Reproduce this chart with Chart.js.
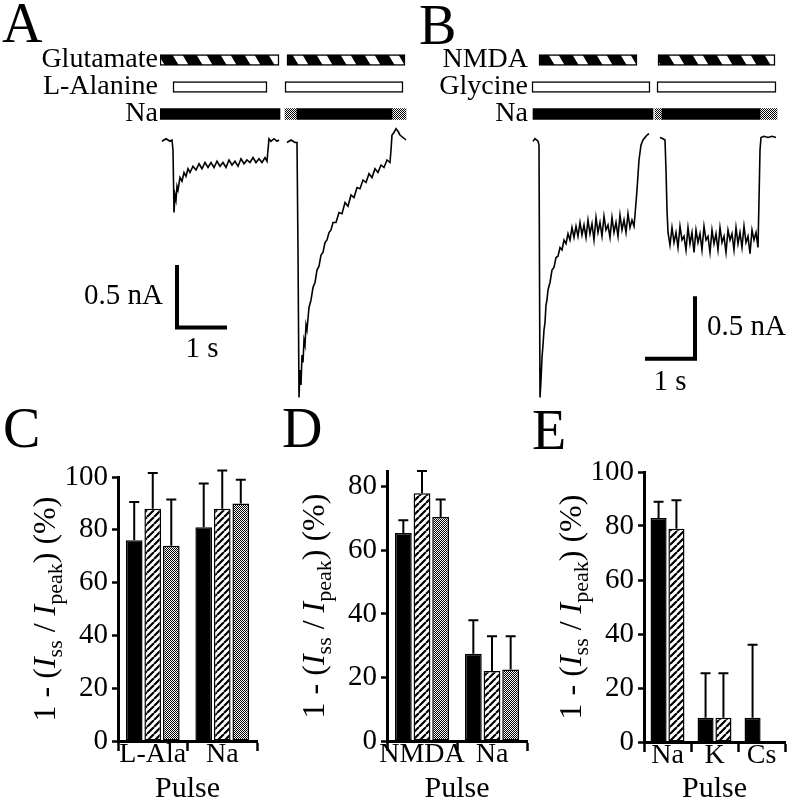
<!DOCTYPE html>
<html>
<head>
<meta charset="utf-8">
<script src="https://cdn.jsdelivr.net/npm/chart.js@4.4.1/dist/chart.umd.min.js"></script>
<style>
body { margin: 0; background: #fff; width: 794px; height: 810px; position: relative; overflow: hidden;
       font-family: "Liberation Serif", "Times New Roman", serif; }
canvas { position: absolute; }
.panel { position: absolute; font-size: 56px; line-height: 56px; color: #000; }
</style>
</head>
<body>
<div class="panel" style="left:2px;top:-5px">A</div>
<div class="panel" style="left:419px;top:-3px">B</div>
<div class="panel" style="left:3px;top:400px">C</div>
<div class="panel" style="left:282px;top:400px">D</div>
<div class="panel" style="left:532px;top:402px">E</div>

<canvas id="protA" width="420" height="134" style="left:0;top:14px"></canvas>
<canvas id="traceA" width="420" height="290" style="left:0;top:120px"></canvas>
<canvas id="protB" width="394" height="134" style="left:400px;top:14px"></canvas>
<canvas id="traceB" width="394" height="290" style="left:400px;top:120px"></canvas>
<canvas id="chartC" width="270" height="370" style="left:0;top:440px"></canvas>
<canvas id="chartD" width="275" height="370" style="left:265px;top:440px"></canvas>
<canvas id="chartE" width="264" height="370" style="left:530px;top:440px"></canvas>

<script>
// ---- A / B : application protocol, [start, end] in s
const rowsA = ['Glutamate', 'L-Alanine', 'Na'];
const pulse1A = [[0, 2.38], [0.26, 2.14], [0, 2.40]];
const pulse2A = [[2.54, 4.90], [2.50, 4.86], [2.74, 4.64]];
const naGapA = [null, null, [2.50, 2.74]];
const naEndA = [null, null, [4.64, 4.92]];

const rowsB = ['NMDA', 'Glycine', 'Na'];
const pulse1B = [[0.18, 2.14], [0.04, 2.40], [0.06, 2.46]];
const pulse2B = [[2.56, 4.90], [2.54, 4.92], [2.64, 4.60]];
const naGapB = [null, null, [2.50, 2.64]];
const naEndB = [null, null, [4.60, 4.94]];

// ---- current traces: time (s), current (nA)
const tA1 = [0.04,0.12,0.20,0.24,0.26,0.28,0.30,0.32,0.34,0.36,0.40,0.44,0.48,0.52,0.56,0.60,0.66,0.72,0.78,0.84,0.90,0.96,1.02,1.08,1.14,1.20,1.26,1.32,1.38,1.44,1.50,1.56,1.62,1.68,1.74,1.80,1.86,1.92,1.98,2.04,2.10,2.14,2.16,2.18,2.22,2.28,2.34,2.38];
const iA1 = [-0.01,0.01,-0.01,0,-0.08,-0.58,-0.44,-0.48,-0.37,-0.40,-0.30,-0.33,-0.26,-0.29,-0.23,-0.26,-0.21,-0.24,-0.19,-0.23,-0.18,-0.22,-0.18,-0.22,-0.17,-0.21,-0.18,-0.22,-0.16,-0.20,-0.17,-0.21,-0.15,-0.19,-0.16,-0.18,-0.14,-0.18,-0.15,-0.18,-0.14,-0.17,-0.08,0.01,-0.01,0.01,-0.01,0];
const tA2 = [2.54,2.62,2.70,2.74,2.76,2.78,2.80,2.82,2.84,2.86,2.88,2.90,2.92,2.94,2.98,3.02,3.06,3.10,3.14,3.18,3.22,3.26,3.30,3.34,3.38,3.42,3.46,3.52,3.58,3.64,3.70,3.76,3.82,3.88,3.94,4.00,4.06,4.12,4.18,4.24,4.30,4.36,4.42,4.48,4.54,4.60,4.62,4.64,4.68,4.72,4.76,4.80,4.86,4.92];
const iA2 = [-0.02,0,-0.02,-0.02,-0.88,-2.06,-1.84,-1.96,-1.72,-1.78,-1.60,-1.64,-1.48,-1.52,-1.34,-1.28,-1.18,-1.14,-1.04,-1.01,-0.92,-0.90,-0.82,-0.80,-0.74,-0.72,-0.66,-0.66,-0.58,-0.59,-0.50,-0.53,-0.44,-0.46,-0.38,-0.39,-0.32,-0.34,-0.27,-0.30,-0.23,-0.26,-0.20,-0.22,-0.16,-0.18,-0.08,0.04,0.06,0.09,0.07,0.04,0.02,0];
const tB1 = [0.06,0.10,0.16,0.18,0.20,0.22,0.24,0.26,0.28,0.30,0.32,0.34,0.36,0.40,0.44,0.48,0.52,0.56,0.60,0.64,0.68,0.72,0.76,0.80,0.84,0.88,0.92,0.96,1.00,1.04,1.08,1.12,1.16,1.20,1.24,1.28,1.32,1.36,1.40,1.44,1.48,1.52,1.56,1.60,1.64,1.68,1.72,1.76,1.80,1.84,1.88,1.92,1.96,2.00,2.04,2.08,2.10,2.14,2.18,2.22,2.26,2.30,2.34,2.38];
const iB1 = [-0.01,0.01,-0.01,-0.04,-2.06,-1.92,-1.74,-1.64,-1.52,-1.46,-1.32,-1.28,-1.20,-1.14,-1.04,-1.02,-0.94,-0.93,-0.86,-0.88,-0.80,-0.83,-0.75,-0.80,-0.70,-0.78,-0.69,-0.77,-0.66,-0.76,-0.68,-0.78,-0.64,-0.75,-0.67,-0.80,-0.62,-0.74,-0.66,-0.77,-0.61,-0.72,-0.68,-0.78,-0.62,-0.74,-0.66,-0.77,-0.60,-0.72,-0.64,-0.74,-0.59,-0.70,-0.64,-0.69,-0.60,-0.40,-0.16,-0.04,0,0.02,0.04,0.05];
const tB2 = [2.60,2.66,2.70,2.72,2.74,2.76,2.80,2.84,2.88,2.92,2.96,3.00,3.04,3.08,3.12,3.16,3.20,3.24,3.28,3.32,3.36,3.40,3.44,3.48,3.52,3.56,3.60,3.64,3.68,3.72,3.76,3.80,3.84,3.88,3.92,3.96,4.00,4.04,4.08,4.12,4.16,4.20,4.24,4.28,4.32,4.36,4.40,4.44,4.48,4.52,4.56,4.58,4.60,4.62,4.68,4.76,4.84,4.92];
const iB2 = [0.02,0.01,0,-0.24,-0.56,-0.74,-0.84,-0.70,-0.82,-0.74,-0.86,-0.69,-0.80,-0.77,-0.88,-0.70,-0.83,-0.74,-0.90,-0.72,-0.82,-0.75,-0.88,-0.69,-0.80,-0.77,-0.90,-0.72,-0.83,-0.75,-0.88,-0.70,-0.82,-0.77,-0.90,-0.72,-0.80,-0.75,-0.88,-0.70,-0.83,-0.74,-0.86,-0.69,-0.82,-0.77,-0.91,-0.72,-0.80,-0.74,-0.86,-0.48,-0.08,0.02,0.03,0.02,0.03,0.02];

// scale bars: corner (s, nA) and lengths
const barNA = 0.5, barSec = 1;
const cornerA = [0.34, -1.5];
const cornerB = [3.30, -1.75];

// ---- C / D / E : 1 - (Iss/Ipeak) (%), mean and upper error
const catsC = ['L-Ala', 'Na'];
const solidC = [76, 81], solidErrC = [14.5, 16.5];
const hatchC = [88, 88], hatchErrC = [13.5, 14.5];
const dotC = [74, 90], dotErrC = [17.5, 9];
const ticksC = [0, 20, 40, 60, 80, 100];

const catsD = ['NMDA', 'Na'];
const solidD = [65.5, 27.5], solidErrD = [4, 10.5];
const hatchD = [78, 22], hatchErrD = [7, 11];
const dotD = [70.5, 22.5], dotErrD = [5.5, 10.5];
const ticksD = [0, 20, 40, 60, 80];

const catsE = ['Na', 'K', 'Cs'];
const solidE = [83, 9, 9], solidErrE = [6, 16.5, 27];
const hatchE = [79, 9, null], hatchErrE = [10.5, 16.5, null];
const ticksE = [0, 20, 40, 60, 80, 100];

const serif = '"Liberation Serif", "Times New Roman", serif';
Chart.defaults.font.family = serif;
Chart.defaults.color = '#000';
Chart.defaults.animation = false;
Chart.defaults.plugins.legend.display = false;
Chart.defaults.plugins.tooltip.enabled = false;

function makePattern(w, h, draw) {
  const c = document.createElement('canvas');
  c.width = w; c.height = h;
  const g = c.getContext('2d');
  draw(g, w, h);
  return g.createPattern(c, 'repeat');
}
// diagonal hatching for the bar graphs
const stripes = makePattern(7, 7, (g, w, h) => {
  g.fillStyle = '#fff'; g.fillRect(0, 0, w, h);
  g.strokeStyle = '#000'; g.lineWidth = 2.2;
  g.beginPath();
  for (let k = -1; k <= 1; k++) { g.moveTo(k * w, h); g.lineTo(k * w + w, 0); }
  g.stroke();
});
// grey stipple
const dots = makePattern(2, 2, (g) => {
  g.fillStyle = '#fff'; g.fillRect(0, 0, 2, 2);
  g.fillStyle = '#000'; g.fillRect(0, 0, 1, 1); g.fillRect(1, 1, 1, 1);
});
// slanted blocks of the agonist bars
const blocks = makePattern(24, 40, (g, w, h) => {
  g.fillStyle = '#000'; g.fillRect(0, 0, w, h);
  g.fillStyle = '#fff';
  for (let k = -1; k <= 1; k++) {
    g.beginPath();
    g.moveTo(k * w + 4, 0); g.lineTo(k * w + 14, 0);
    g.lineTo(k * w + 14 + w, h); g.lineTo(k * w + 4 + w, h);
    g.closePath(); g.fill();
  }
});

// ---- plugins
const errorBars = {
  id: 'errorBars',
  afterDatasetsDraw(chart) {
    const ctx = chart.ctx, y = chart.scales.y;
    chart.data.datasets.forEach((ds, i) => {
      if (!ds.errors) return;
      chart.getDatasetMeta(i).data.forEach((bar, j) => {
        const v = ds.data[j];
        if (v == null) return;
        const top = y.getPixelForValue(v + ds.errors[j]);
        ctx.save();
        ctx.strokeStyle = '#000'; ctx.lineWidth = 2;
        ctx.beginPath();
        ctx.moveTo(bar.x, bar.y); ctx.lineTo(bar.x, top);
        ctx.moveTo(bar.x - 5, top); ctx.lineTo(bar.x + 5, top);
        ctx.stroke();
        ctx.restore();
      });
    });
  }
};

// y title with italic I and subscripts
const yTitle = {
  id: 'yTitle',
  afterDraw(chart, args, o) {
    const {ctx, chartArea: a} = chart;
    const parts = [['1 - (', 'n'], ['I', 'i'], ['ss', 's'], [' / ', 'n'], ['I', 'i'], ['peak', 's'], [') (%)', 'n']];
    const fontOf = k => k === 'i' ? `italic 32px ${serif}` : k === 's' ? `22px ${serif}` : `32px ${serif}`;
    ctx.save();
    ctx.translate(a.left - o.dx, (a.top + a.bottom) / 2);
    ctx.rotate(-Math.PI / 2);
    ctx.fillStyle = '#000'; ctx.textAlign = 'left'; ctx.textBaseline = 'alphabetic';
    let total = 0;
    parts.forEach(([t, k]) => { ctx.font = fontOf(k); total += ctx.measureText(t).width; });
    let x = -total / 2;
    parts.forEach(([t, k]) => {
      ctx.font = fontOf(k);
      ctx.fillText(t, x, k === 's' ? 18 : 11);
      x += ctx.measureText(t).width;
    });
    ctx.restore();
  }
};

const scaleText = {
  id: 'scaleText',
  afterDraw(chart, args, o) {
    const {ctx, scales: {x, y}} = chart;
    ctx.save();
    ctx.font = `29px ${serif}`; ctx.fillStyle = '#000'; ctx.textBaseline = 'middle';
    o.items.forEach(it => {
      ctx.textAlign = it.align;
      ctx.fillText(it.text, x.getPixelForValue(it.x) + it.dx, y.getPixelForValue(it.y) + it.dy);
    });
    ctx.restore();
  }
};

// ---- protocol bars (A, B)
function protocolChart(id, rows, p1, p2, gap, end, axisW, padR) {
  const look = { grouped: false, barThickness: 11, borderSkipped: false, borderColor: '#000' };
  return new Chart(document.getElementById(id), {
    type: 'bar',
    data: {
      labels: rows,
      datasets: [
        { ...look, data: p1, backgroundColor: [blocks, '#fff', '#000'], borderWidth: [1.5, 1.5, 0] },
        { ...look, data: p2, backgroundColor: [blocks, '#fff', '#000'], borderWidth: [1.5, 1.5, 0] },
        { ...look, data: gap, backgroundColor: dots, borderWidth: 0 },
        { ...look, data: end, backgroundColor: dots, borderWidth: 0 }
      ]
    },
    options: {
      indexAxis: 'y', responsive: false,
      layout: { padding: { top: 32.5, bottom: 20.5, left: 0, right: padR } },
      scales: {
        x: { type: 'linear', display: false, min: 0, max: 5 },
        y: {
          grid: { display: false, drawTicks: false }, border: { display: false },
          ticks: { font: { size: 28 }, padding: 2, autoSkip: false },
          afterFit: s => { s.width = axisW; }
        }
      }
    }
  });
}

// ---- traces (A, B)
const pts = (t, v) => t.map((x, i) => ({ x, y: v[i] }));
function traceChart(id, traces, bar, padL, padR, labels) {
  const line = { showLine: true, pointRadius: 0, borderColor: '#000', borderWidth: 1.6, tension: 0, clip: false };
  return new Chart(document.getElementById(id), {
    type: 'scatter',
    data: {
      datasets: [
        ...traces.map(d => ({ ...line, data: d })),
        { ...line, data: bar, borderWidth: 4, borderCapStyle: 'butt', borderJoinStyle: 'miter' }
      ]
    },
    options: {
      responsive: false,
      layout: { padding: { left: padL, right: padR, top: 7.5, bottom: 7.5 } },
      scales: {
        x: { type: 'linear', display: false, min: 0, max: 5 },
        y: { type: 'linear', display: false, min: -2.1, max: 0.1 }
      },
      plugins: { scaleText: { items: labels } }
    },
    plugins: [scaleText]
  });
}

// ---- summary bars (C, D, E)
function barChart(id, cats, sets, ticks, yMax, o) {
  return new Chart(document.getElementById(id), {
    type: 'bar',
    data: { labels: cats, datasets: sets.map(s => ({ ...s, categoryPercentage: o.cat, barPercentage: 0.9,
      borderColor: '#000', borderWidth: 1.5, borderSkipped: false })) },
    options: {
      responsive: false,
      layout: { padding: { top: o.top, right: o.right, bottom: 0, left: 0 } },
      scales: {
        x: {
          grid: { offset: true, drawOnChartArea: false, color: '#000', tickLength: 10, tickWidth: 2.5 },
          border: { color: '#000', width: 3 },
          ticks: { font: { size: 28 }, padding: -13, maxRotation: 0, minRotation: 0, autoSkip: false },
          title: { display: true, text: 'Pulse', font: { size: 30 }, padding: { top: 0, bottom: 3 } },
          afterFit: s => { s.height = o.xh; }
        },
        y: {
          min: 0, max: yMax,
          grid: { drawOnChartArea: false, color: '#000', tickLength: 6, tickWidth: 2.5 },
          border: { color: '#000', width: 3 },
          ticks: { font: { size: 29 }, padding: 4 },
          afterBuildTicks: s => { s.ticks = ticks.map(v => ({ value: v })); },
          afterFit: s => { s.width = o.yw; }
        }
      },
      plugins: { yTitle: { dx: 74 } }
    },
    plugins: [errorBars, yTitle]
  });
}

protocolChart('protA', rowsA, pulse1A, pulse2A, naGapA, naEndA, 160, 10);
protocolChart('protB', rowsB, pulse1B, pulse2B, naGapB, naEndB, 130, 14);

traceChart('traceA', [pts(tA1, iA1), pts(tA2, iA2)],
  [{ x: cornerA[0], y: cornerA[1] + barNA }, { x: cornerA[0], y: cornerA[1] }, { x: cornerA[0] + barSec, y: cornerA[1] }],
  160, 10,
  [{ text: '0.5 nA', x: cornerA[0], y: cornerA[1] + barNA / 2, dx: -14, dy: 0, align: 'right' },
   { text: '1 s', x: cornerA[0] + barSec / 2, y: cornerA[1], dx: 0, dy: 22, align: 'center' }]);

traceChart('traceB', [pts(tB1, iB1), pts(tB2, iB2)],
  [{ x: cornerB[0], y: cornerB[1] + barNA }, { x: cornerB[0], y: cornerB[1] }, { x: cornerB[0] - barSec, y: cornerB[1] }],
  130, 14,
  [{ text: '0.5 nA', x: cornerB[0], y: cornerB[1] + barNA / 2, dx: 12, dy: 0, align: 'left' },
   { text: '1 s', x: cornerB[0] - barSec / 2, y: cornerB[1], dx: 0, dy: 24, align: 'center' }]);

barChart('chartC', catsC, [
  { label: 'solid', data: solidC, errors: solidErrC, backgroundColor: '#000' },
  { label: 'hatched', data: hatchC, errors: hatchErrC, backgroundColor: stripes },
  { label: 'stippled', data: dotC, errors: dotErrC, backgroundColor: dots }
], ticksC, 100, { cat: 0.8, top: 37, right: 13, yw: 118, xh: 69 });

barChart('chartD', catsD, [
  { label: 'solid', data: solidD, errors: solidErrD, backgroundColor: '#000' },
  { label: 'hatched', data: hatchD, errors: hatchErrD, backgroundColor: stripes },
  { label: 'stippled', data: dotD, errors: dotErrD, backgroundColor: dots }
], ticksD, 85, { cat: 0.8, top: 31, right: 13, yw: 122, xh: 69 });

barChart('chartE', catsE, [
  { label: 'solid', data: solidE, errors: solidErrE, backgroundColor: '#000' },
  { label: 'hatched', data: hatchE, errors: hatchErrE, backgroundColor: stripes }
], ticksE, 100, { cat: 0.76, top: 32, right: 9, yw: 114, xh: 68 });
</script>
</body>
</html>
